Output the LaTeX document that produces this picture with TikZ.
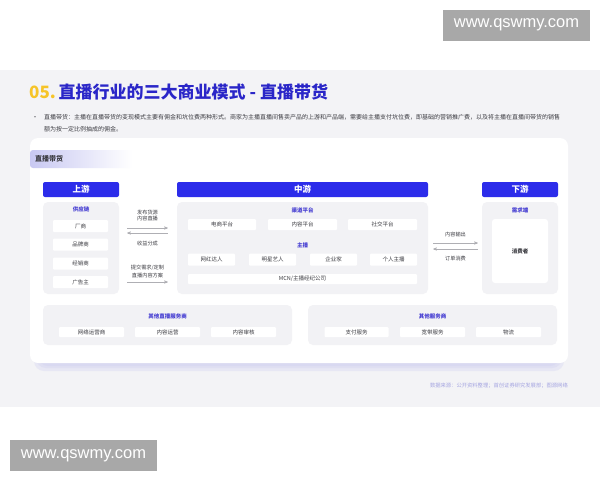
\documentclass[tikz,border=0pt]{standalone}
\usepackage{fontspec}
\setmainfont{Noto Sans CJK SC}
\newfontfamily\wmfont{Liberation Sans}
\usetikzlibrary{arrows}
\definecolor{hdblue}{RGB}{44,44,234}
\definecolor{ttlblue}{RGB}{42,38,200}
\definecolor{ylw}{RGB}{246,196,40}
\definecolor{bandgray}{RGB}{243,243,246}
\definecolor{panelgray}{RGB}{242,242,245}
\definecolor{txtdark}{RGB}{60,60,66}
\definecolor{subblue}{RGB}{70,62,210}
\definecolor{arrgray}{RGB}{175,175,180}
\definecolor{srclav}{RGB}{165,165,225}
\definecolor{taglav}{RGB}{200,200,242}
\definecolor{shadowlav}{RGB}{205,205,240}
\definecolor{wmgray}{RGB}{168,168,168}
\newcommand{\fsz}[1]{\fontsize{#1}{#1}\selectfont}
\begin{document}
\begin{tikzpicture}[x=1pt,y=-1pt,
  hdr/.style={fill=hdblue,rounded corners=2,text=white,font=\bfseries\fsz{8.5},minimum height=15,inner sep=0},
  panel/.style={fill=panelgray,rounded corners=5,inner sep=0},
  cell/.style={fill=white,rounded corners=1,text=txtdark,font=\fsz{5.5},inner sep=0},
  sub/.style={text=subblue,font=\bfseries\fsz{5.5},inner sep=0},
  lbl/.style={text=txtdark,font=\fsz{5.2},align=center,inner sep=0},
  wm/.style={fill=wmgray,text=white,font=\wmfont\fsz{16.5},minimum width=147,minimum height=31,inner sep=0},
  glow/.style={fill=shadowlav,rounded corners=10,opacity=0.3},
  flow/.style={draw=arrgray,line width=0.4,->,>=stealth'}]
  \useasboundingbox (0,0) rectangle (600,480);
  \fill[white] (0,0) rectangle (600,480);
  \fill[bandgray] (0,70) rectangle (600,407);
  \node[wm] (wmtop) at (516.5,25) {www.qswmy.com};
  \node[wm] (wmbot) at (83.5,455.5) {www.qswmy.com};
  \node[anchor=west,inner sep=0,font=\bfseries\fsz{17}] (title) at (29,92) {\textcolor{ylw}{05.}\,\textcolor{ttlblue}{直播行业的三大商业模式 - 直播带货}};
  \node[inner sep=0,text=txtdark,font=\fsz{6}] (dot) at (35,118) {•};
  \node[anchor=north west,align=left,inner sep=0,text=txtdark,font=\fontsize{6}{11.5}\selectfont] (intro) at (44,114.5)
    {直播带货：主播在直播带货的变现模式主要有佣金和坑位费两种形式。商家为主播直播间售卖产品的上游和产品端，需要给主播支付坑位费，即基础的营销推广费，以及将主播在直播间带货的销售\\额为按一定比例抽成的佣金。};
  \fill[glow] (34,146) rectangle (564,371);
  \fill[glow] (36,146) rectangle (562,368);
  \fill[glow] (38,146) rectangle (560,366);
  \node[fill=white,rounded corners=8,minimum width=538,minimum height=225,inner sep=0] (card) at (299,250.5) {};
  \shade[left color=taglav,right color=white,rounded corners=3] (30,150) rectangle (132,168);
  \node[anchor=west,inner sep=0,text=txtdark,font=\bfseries\fsz{7}] (tag) at (35,159) {直播带货};
  \node[hdr,minimum width=76] (up) at (81,189.5) {上游};
  \node[panel,minimum width=76,minimum height=92] (upbody) at (81,248) {};
  \node[sub] (supply) at (81,209.5) {供应链};
  \node[cell,minimum width=55,minimum height=12] (f1) at (80.5,226) {厂商};
  \node[cell,minimum width=55,minimum height=12] (f2) at (80.5,244.5) {品牌商};
  \node[cell,minimum width=55,minimum height=12] (f3) at (80.5,263.5) {经销商};
  \node[cell,minimum width=55,minimum height=12] (f4) at (80.5,282) {广告主};
  \node[hdr,minimum width=251] (mid) at (302.5,189.5) {中游};
  \node[panel,minimum width=251,minimum height=92] (midbody) at (302.5,248) {};
  \node[sub] (channel) at (302.5,210) {渠道平台};
  \node[cell,minimum width=68,minimum height=11] (p1) at (222,224.5) {电商平台};
  \node[cell,minimum width=69,minimum height=11] (p2) at (302.5,224.5) {内容平台};
  \node[cell,minimum width=69,minimum height=11] (p3) at (382.5,224.5) {社交平台};
  \node[sub] (host) at (302.5,245) {主播};
  \node[cell,minimum width=47,minimum height=12] (h1) at (211.5,259.5) {网红达人};
  \node[cell,minimum width=47,minimum height=12] (h2) at (272.5,259.5) {明星艺人};
  \node[cell,minimum width=47,minimum height=12] (h3) at (333.5,259.5) {企业家};
  \node[cell,minimum width=47,minimum height=12] (h4) at (393.5,259.5) {个人主播};
  \node[cell,minimum width=229,minimum height=10] (mcn) at (302.5,279) {MCN/主播经纪公司};
  \node[hdr,minimum width=76] (down) at (520,189.5) {下游};
  \node[panel,minimum width=76,minimum height=92] (downbody) at (520,248) {};
  \node[sub] (demand) at (520,210) {需求端};
  \node[cell,minimum width=56,minimum height=64,rounded corners=3,font=\bfseries\fsz{5.5}] (buyer) at (520,251) {消费者};
  \node[lbl] (l1) at (147.5,215.5) {发布货源\\[1.5pt]内容直播};
  \draw[flow,shorten <=8,shorten >=9] (upbody.east |- 0,228) -- (midbody.west |- 0,228);
  \draw[flow,shorten <=9,shorten >=8] (midbody.west |- 0,233) -- (upbody.east |- 0,233);
  \node[lbl] (l2) at (147.5,244) {收益分成};
  \node[lbl] (l3) at (147.5,271.5) {提交需求/定制\\[1.5pt]直播内容方案};
  \draw[flow,shorten <=8,shorten >=9] (upbody.east |- 0,282) -- (midbody.west |- 0,282);
  \node[lbl] (r1) at (455.5,235) {内容输出};
  \draw[flow,shorten <=5,shorten >=4] (midbody.east |- 0,243) -- (downbody.west |- 0,243);
  \draw[flow,shorten <=4,shorten >=5] (downbody.west |- 0,249) -- (midbody.east |- 0,249);
  \node[lbl] (r2) at (455.5,259) {订单消费};
  \node[panel,minimum width=249,minimum height=40] (svc1) at (167.5,325) {};
  \node[sub] (svc1t) at (167.5,316) {其他直播服务商};
  \node[cell,minimum width=65,minimum height=10] (s1) at (91.5,332) {网络运营商};
  \node[cell,minimum width=65,minimum height=10] (s2) at (167.5,332) {内容运营};
  \node[cell,minimum width=65,minimum height=10] (s3) at (243.5,332) {内容审核};
  \node[panel,minimum width=249,minimum height=40] (svc2) at (432.5,325) {};
  \node[sub] (svc2t) at (432.5,316) {其他服务商};
  \node[cell,minimum width=64,minimum height=10] (t1) at (356.5,332) {支付服务};
  \node[cell,minimum width=65,minimum height=10] (t2) at (432.5,332) {宽带服务};
  \node[cell,minimum width=65,minimum height=10] (t3) at (508.5,332) {物流};
  \node[anchor=east,inner sep=0,text=srclav,font=\fsz{5.3}] (src) at (568,386) {数据来源：公开资料整理；首创证券研究发展部；图源网络};
\end{tikzpicture}
\end{document}
